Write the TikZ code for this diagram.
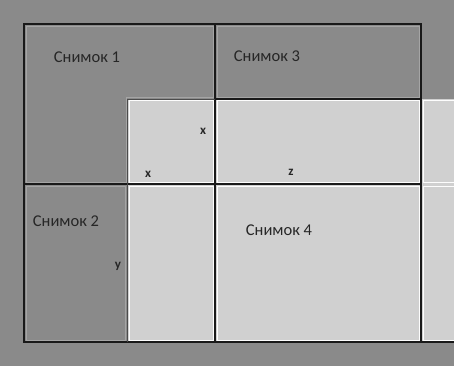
\documentclass[tikz,border=0pt]{standalone}
\usepackage{fontspec}
\setmainfont{Carlito}
\definecolor{darkg}{RGB}{138,138,138}
\definecolor{lightg}{RGB}{208,208,208}
\definecolor{rimg}{RGB}{165,165,165}
\begin{document}
\begin{tikzpicture}[x=1pt,y=-1pt,
  lbl/.style={font=\fontsize{16.5}{18}\selectfont, text=black!85, inner sep=0pt},
  sm/.style={font=\fontsize{13}{15}\selectfont\bfseries, text=black!85, inner sep=0pt},
  blk/.style={draw=black!90, line width=1.2pt},
  wht/.style={draw=white!95!lightg, line width=1pt}]
\useasboundingbox (0,0) rectangle (454,366);
\fill[darkg] (0,0) rectangle (454,366);
% light region
\fill[lightg] (127,99) rectangle (454,342);
% white inner outlines of light cells
\draw[wht] (129,101) rectangle (213,182);
\draw[wht] (217,101) rectangle (419,182);
\draw[wht] (423,101) rectangle (456,182);
\draw[wht] (129,186) rectangle (213,340);
\draw[wht] (217,186) rectangle (419,340);
\draw[wht] (423,186) rectangle (456,340);
% lighter rims of dark areas
\draw[rimg, line width=0.8pt] (26,26) -- (213,26) -- (213,97) -- (126,97) -- (126,182) -- (26,182) -- cycle;
\draw[rimg, line width=0.8pt] (217,26) rectangle (419,97);
\draw[rimg, line width=0.8pt] (26,186) rectangle (125,340);
% black lines
\draw[blk] (24,24) rectangle (421,342);
\draw[blk] (215,24) -- (215,342);
\draw[blk] (24,184) -- (421,184);
\draw[blk] (215,99) -- (421,99);
\draw[blk] (421,342) -- (454,342);
\draw[black!70, line width=0.8pt] (127,99) -- (215,99);
\draw[black!70, line width=0.8pt] (127,99) -- (127,342);
% labels
\node[lbl] (s1) at (87,57) {Снимок 1};
\node[lbl] (s3) at (267,56) {Снимок 3};
\node[lbl] (s2) at (66,221) {Снимок 2};
\node[lbl] (s4) at (279,230) {Снимок 4};
\node[sm] (x1) at (203,131) {x};
\node[sm] (x2) at (148,174) {x};
\node[sm] (z) at (291,172) {z};
\node[sm] (y) at (118,266) {y};
\end{tikzpicture}
\end{document}
